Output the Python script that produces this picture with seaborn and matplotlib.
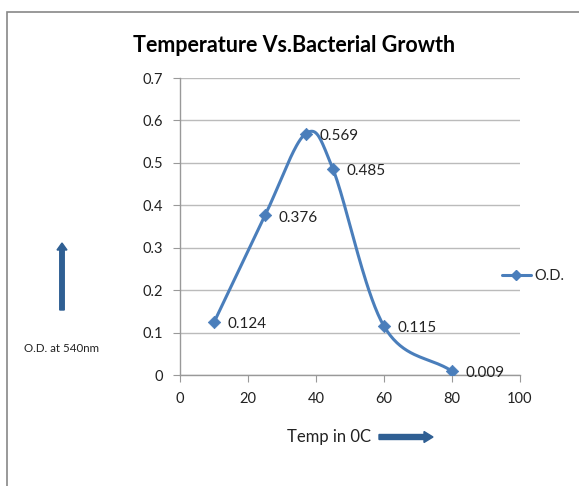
import numpy as np
import pandas as pd
import matplotlib
matplotlib.use("Agg")
import matplotlib.pyplot as plt
import seaborn as sns
from matplotlib.patches import Rectangle, FancyArrow

temps = [10, 25, 37, 45, 60, 80]
od = [0.124, 0.376, 0.569, 0.485, 0.115, 0.009]
od_labels = ["0.124", "0.376", "0.569", "0.485", "0.115", "0.009"]
xticks = [0, 20, 40, 60, 80, 100]
yticks = [0, 0.1, 0.2, 0.3, 0.4, 0.5, 0.6, 0.7]
ytick_labels = ["0", "0.1", "0.2", "0.3", "0.4", "0.5", "0.6", "0.7"]

sns.set_style("white")
plt.rcParams['font.family'] = ['Lato', 'DejaVu Sans']

W, H = 579, 486
fig = plt.figure(figsize=(W / 100, H / 100), dpi=100)
ax = fig.add_axes([180 / W, 1 - 375 / H, 340 / W, 297 / H])

# Smoothed curve (Catmull-Rom, as Excel's smoothed lines)
def catmull_rom(xs, ys, n=40):
    P = np.column_stack([xs, ys]).astype(float)
    P = np.vstack([P[0] - (P[1] - P[0]), P, P[-1] + (P[-1] - P[-2])])
    out = []
    for i in range(1, len(P) - 2):
        p0, p1, p2, p3 = P[i - 1], P[i], P[i + 1], P[i + 2]
        t = np.linspace(0, 1, n)[:, None]
        seg = 0.5 * ((2 * p1) + (-p0 + p2) * t + (2 * p0 - 5 * p1 + 4 * p2 - p3) * t ** 2
                     + (-p0 + 3 * p1 - 3 * p2 + p3) * t ** 3)
        out.append(seg if i == 1 else seg[1:])
    return np.vstack(out)

curve = catmull_rom(temps, od)
cdf = pd.DataFrame({"x": curve[:, 0], "y": curve[:, 1]})
col = "#4A7EBB"
sns.lineplot(data=cdf, x="x", y="y", ax=ax, color=col, lw=2.2, sort=False, estimator=None)
df = pd.DataFrame({"Temp": temps, "OD": od})
sns.scatterplot(data=df, x="Temp", y="OD", ax=ax, marker="D", s=40, color=col,
                edgecolor=col, zorder=5)

for x, y, lab in zip(temps, od, od_labels):
    ax.annotate(lab, (x, y), xytext=(10, -1.5), textcoords="offset points",
                ha="left", va="center", fontsize=11, color="#222222")

ax.set_xlim(0, 100)
ax.set_ylim(0, 0.7)
ax.set_xticks(xticks)
ax.set_xticklabels([str(v) for v in xticks])
ax.set_yticks(yticks)
ax.set_yticklabels(ytick_labels)
ax.yaxis.grid(True, color="#BBBBBB", lw=1)
ax.xaxis.grid(False)
for s in ["top", "right"]:
    ax.spines[s].set_visible(False)
for s in ["left", "bottom"]:
    ax.spines[s].set_color("#999999")
    ax.spines[s].set_linewidth(1)
ax.tick_params(axis="both", which="major", direction="out", length=5, color="#999999",
               labelsize=10.5, labelcolor="#222222", pad=7, left=True, bottom=True)
ax.set_xlabel("")
ax.set_ylabel("")

fig.text(294 / W, 1 - 45 / H, "Temperature Vs.Bacterial Growth", ha="center", va="center",
         fontsize=15.5, fontweight="bold", color="black")

# legend
leg_line, = ax.plot([], [], color=col, lw=2.2, marker="D", ms=5)
ax.legend([leg_line], ["O.D."], loc="center left", bbox_to_anchor=(496 / W, 1 - 276 / H),
          bbox_transform=fig.transFigure, frameon=False, fontsize=10.5, handlelength=2.0,
          handletextpad=0.2, borderaxespad=0)

# y label and arrow
fig.text(62 / W, 1 - 348 / H, "O.D. at 540nm", ha="center", va="center", fontsize=8.3,
         color="#222222")
acol = "#2F5F93"
fig.patches.append(FancyArrow(62 / W, 1 - 310 / H, 0, 67 / H, width=4.5 / W,
                              head_width=10 / W, head_length=7 / H,
                              length_includes_head=True, transform=fig.transFigure,
                              color=acol, figure=fig))
# x label and arrow
fig.text(371 / W, 1 - 437 / H, "Temp in 0C", ha="right", va="center", fontsize=12,
         color="#222222")
fig.patches.append(FancyArrow(379 / W, 1 - 437 / H, 54 / W, 0, width=5 / H,
                              head_width=11 / H, head_length=9 / W,
                              length_includes_head=True, transform=fig.transFigure,
                              color=acol, figure=fig))

# outer frame
fig.patches.append(Rectangle((7 / W, -0.1), 1.2, 1 - 12 / H + 0.1, fill=False,
                             edgecolor="#888888", lw=1.2, transform=fig.transFigure,
                             figure=fig))

fig.savefig("out.png", dpi=100)
